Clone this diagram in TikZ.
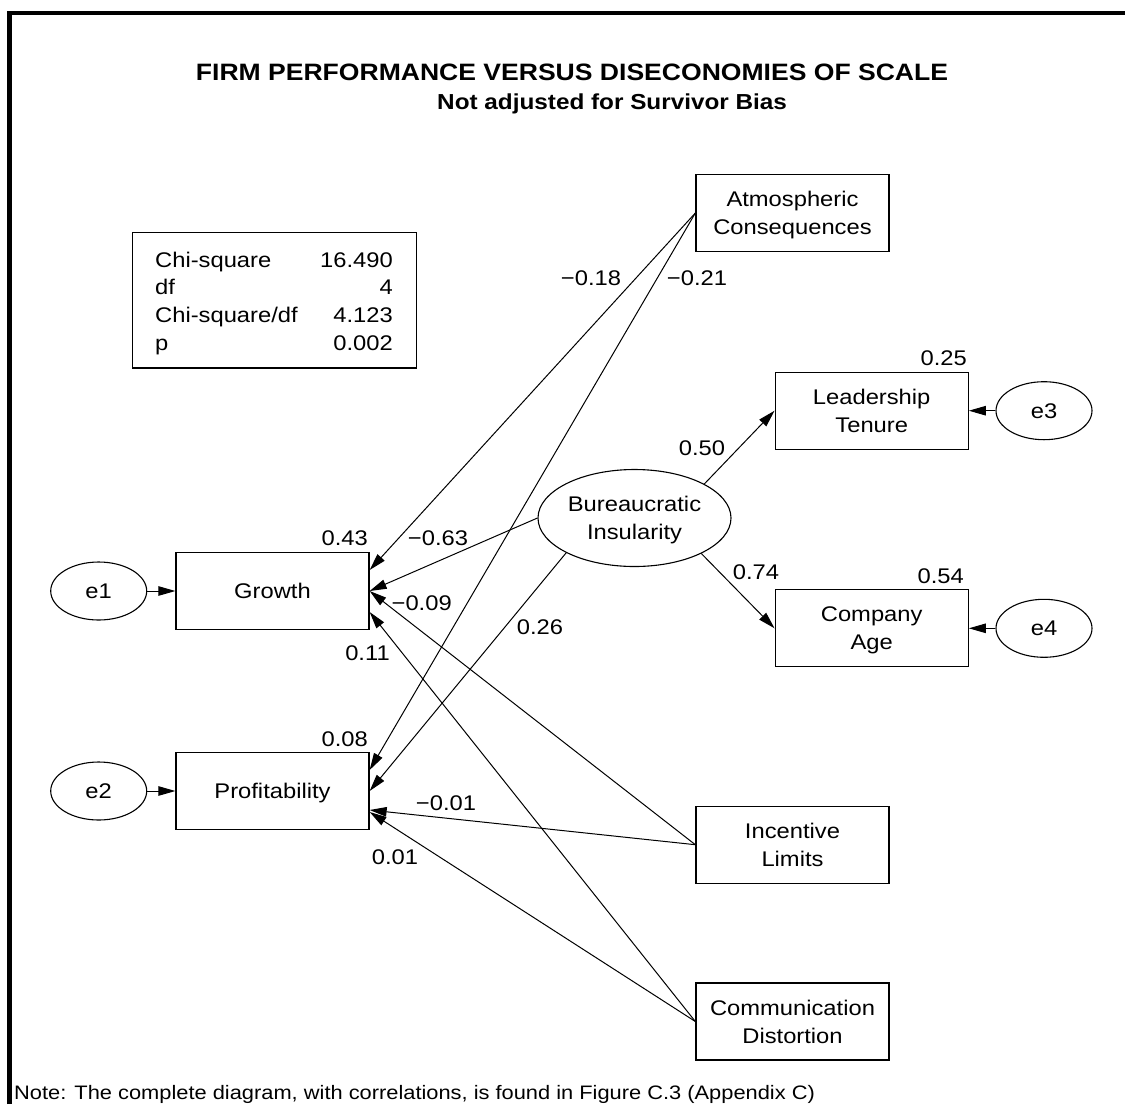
\documentclass[tikz,border=0pt]{standalone}
\usepackage{fontspec}
\setmainfont{Liberation Sans}[FakeStretch=1.12]
\usetikzlibrary{shapes.geometric,arrows.meta}
\newcommand\normalfs{\fontsize{21.2}{27.7}\selectfont}
\newcommand\notefs{\fontsize{19.5}{23}\selectfont}
\tikzset{
  box/.style={draw, line width=1.3pt, minimum width=193pt, minimum height=77pt, inner sep=0pt, align=center, font=\normalfs, text depth=0pt},
  err/.style={draw, ellipse, line width=1.1pt, minimum width=96pt, minimum height=58pt, inner sep=0pt, font=\normalfs},
  latent/.style={draw, ellipse, line width=1.1pt, minimum width=193pt, minimum height=97pt, inner sep=0pt, align=center, font=\normalfs, text depth=0pt},
  pathar/.style={-{Triangle[length=17pt,width=9.5pt]}, line width=1pt},
  coef/.style={inner sep=0pt, font=\normalfs},
  stat/.style={inner sep=0pt, font=\normalfs},
}
\begin{document}
\begin{tikzpicture}[x=1pt,y=-1pt]
\useasboundingbox (0,0) rectangle (1125,1104);
% frame
\draw[line width=4.5pt, line join=miter] (9.5,1104) -- (9.5,13) -- (1125,13);
% title
\node[anchor=base, inner sep=0pt, font=\fontsize{23.7}{28}\selectfont\bfseries] (title1) at (572,80.5) {FIRM PERFORMANCE VERSUS DISECONOMIES OF SCALE};
\node[anchor=base west, inner sep=0pt, font=\fontsize{21.7}{26}\selectfont\bfseries] (title2) at (437,109) {Not adjusted for Survivor Bias};
% fit statistics
\node[draw, line width=1.3pt, minimum width=284pt, minimum height=135.3pt, inner sep=0pt] (stats) at (274.7,300.35) {};
\node[stat, anchor=base west] (s1l) at (155,267) {Chi-square};
\node[stat, anchor=base east] (s1r) at (393,267) {16.490};
\node[stat, anchor=base west] (s2l) at (155,294.7) {df};
\node[stat, anchor=base east] (s2r) at (393,294.7) {4};
\node[stat, anchor=base west] (s3l) at (155,322.4) {Chi-square/df};
\node[stat, anchor=base east] (s3r) at (393,322.4) {4.123};
\node[stat, anchor=base west] (s4l) at (155,350) {p};
\node[stat, anchor=base east] (s4r) at (393,350) {0.002};
% nodes
\node[box] (Growth) at (272.5,591) {Growth};
\node[box] (Prof) at (272.5,791) {Profitability};
\node[err] (e1) at (98.7,591) {e1};
\node[err] (e2) at (98.7,791) {e2};
\node[box] (Atm) at (792.5,213) {Atmospheric\\Consequences};
\node[box] (LT) at (871.7,410.7) {Leadership\\Tenure};
\node[box] (CA) at (871.7,628.3) {Company\\Age};
\node[err] (e3) at (1044,410.7) {e3};
\node[err] (e4) at (1044,628.3) {e4};
\node[latent] (BI) at (634.5,518) {Bureaucratic\\Insularity};
\node[box] (IL) at (792.5,844.7) {Incentive\\Limits};
\node[box] (CD) at (792.5,1021.5) {Communication\\Distortion};
% paths
\draw[pathar] (e1) -- (Growth);
\draw[pathar] (e2) -- (Prof);
\draw[pathar] (e3) -- (LT);
\draw[pathar] (e4) -- (CA);
\draw[pathar] (BI.26.3) -- (LT.west);
\draw[pathar] (BI.332) -- (CA.west);
\draw[pathar] (Atm.west) -- ([yshift=21pt]Growth.east);
\draw[pathar] (Atm.west) -- ([yshift=21pt]Prof.east);
\draw[pathar] (BI.west) -- (Growth.east);
\draw[pathar] (BI.207.5) -- (Prof.east);
\draw[pathar] (IL.west) -- (Growth.east);
\draw[pathar] (IL.west) -- ([yshift=-19pt]Prof.east);
\draw[pathar] (CD.west) -- ([yshift=-21pt]Growth.east);
\draw[pathar] (CD.west) -- ([yshift=-21pt]Prof.east);
% coefficients
\node[coef, anchor=east] (c43) at (368,538) {0.43};
\node[coef, anchor=east] (c08) at (368,739) {0.08};
\node[coef, anchor=east] (c25) at (967,358) {0.25};
\node[coef, anchor=east] (c54) at (964,576.5) {0.54};
\node[coef] (c63) at (438,538) {−0.63};
\node[coef] (c09) at (421.7,603) {−0.09};
\node[coef] (c26) at (540,627) {0.26};
\node[coef] (c11) at (367.5,653) {0.11};
\node[coef] (c50) at (702,448) {0.50};
\node[coef] (c74) at (756,572) {0.74};
\node[coef] (c21) at (697,278) {−0.21};
\node[coef] (c18) at (591,278) {−0.18};
\node[coef] (cm01) at (446,803) {−0.01};
\node[coef] (cp01) at (395,857) {0.01};
% note
\node[anchor=base west, inner sep=0pt, font=\notefs] (note) at (14,1099) {Note: The complete diagram, with correlations, is found in Figure C.3 (Appendix C)};
\end{tikzpicture}
\end{document}
